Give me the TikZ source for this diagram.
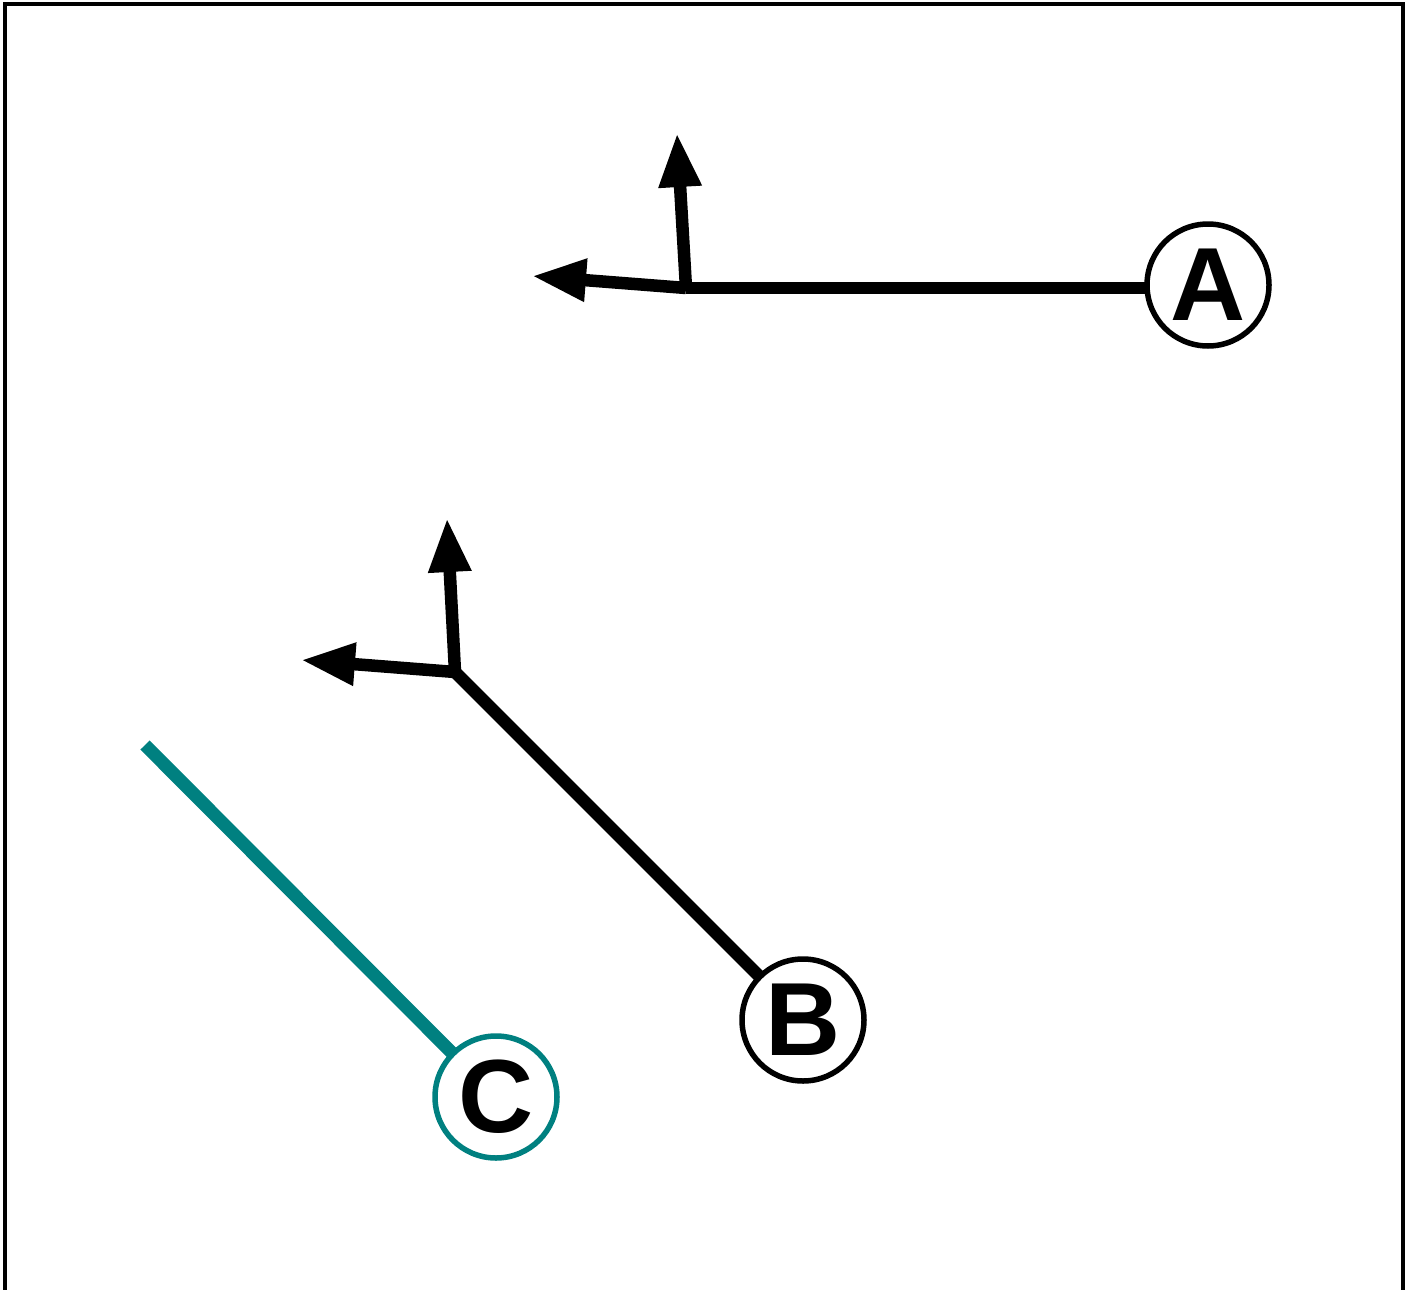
\documentclass[tikz,border=0pt]{standalone}
\usepackage{fontspec}
\setmainfont{Liberation Sans}
\usetikzlibrary{arrows.meta}
\definecolor{teal1}{RGB}{0,128,128}
\begin{document}
\begin{tikzpicture}[x=1pt,y=-1pt,
  marker/.style={circle,draw,line width=5.5pt,minimum size=122pt,inner sep=0pt,fill=white,
    font=\fontsize{104}{104}\selectfont\bfseries},
  leg/.style={line width=12.5pt},
  axis/.style={line width=12.5pt,-{Triangle[length=54pt,width=40pt]}}]
\useasboundingbox (0,0) rectangle (1411,1290);
\draw[line width=4.5pt] (5,1295) -- (5,4) -- (1403,4) -- (1403,1295);
% A
\coordinate (ac) at (1208,285);
\coordinate (ja) at (686,288);
\coordinate (ja1) at (532,276);
\coordinate (ja2) at (677,133);
\draw[leg] (ac |- ja) -- (ja);
\node[marker] (A) at (ac) {A};
\draw[axis] (ja) -- (ja1);
\draw[axis] (ja) -- (ja2);
% B
\coordinate (jb) at (455,672);
\coordinate (jb1) at (301,660);
\coordinate (jb2) at (447,518);
\coordinate (bc) at (803,1020);
\draw[leg] (bc) -- (jb);
\node[marker] (B) at (bc) {B};
\draw[axis] (jb) -- (jb1);
\draw[axis] (jb) -- (jb2);
% C
\coordinate (cend) at (145,745);
\coordinate (cc) at (496,1097);
\draw[line width=13pt,teal1] (cc) -- (cend);
\node[marker,draw=teal1] (C) at (cc) {C};
\end{tikzpicture}
\end{document}
